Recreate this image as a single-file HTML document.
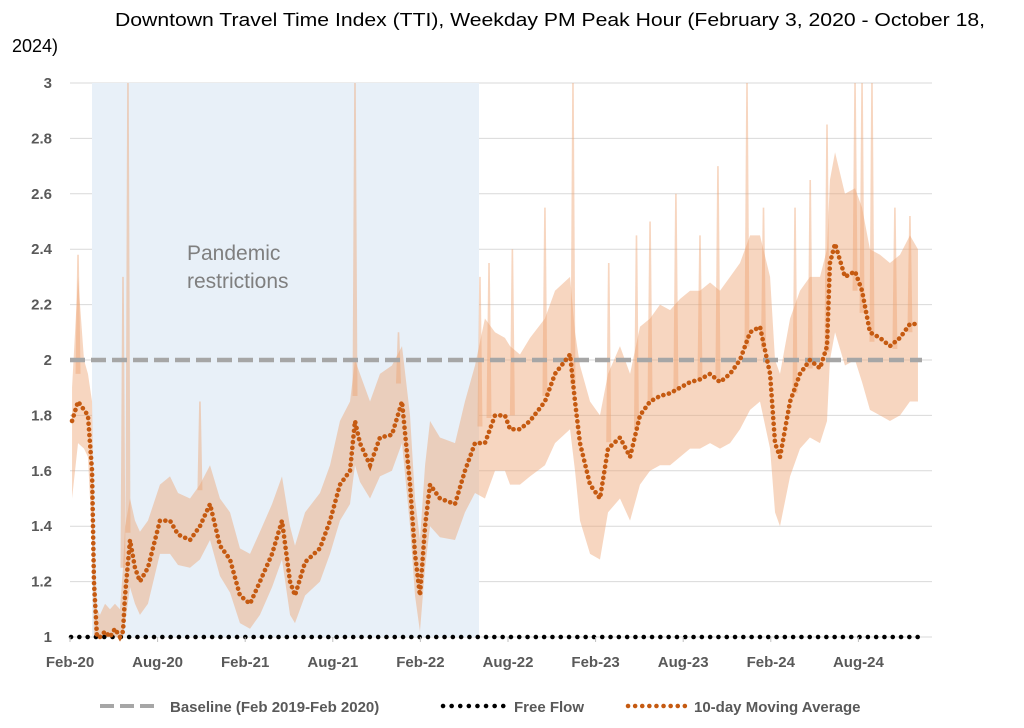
<!DOCTYPE html>
<html><head><meta charset="utf-8"><style>
body{margin:0;background:#fff}
svg{display:block}
text{font-family:"Liberation Sans",sans-serif}
</style></head><body>
<svg id="chart" width="1024" height="728" viewBox="0 0 1024 728">
<text x="115" y="26" font-size="18" fill="#000" textLength="870" lengthAdjust="spacingAndGlyphs">Downtown Travel Time Index (TTI), Weekday PM Peak Hour (February 3, 2020 - October 18,</text>
<text x="12" y="52" font-size="18" fill="#000">2024)</text>
<g id="grid"></g>
<rect x="92" y="83" width="387" height="554" fill="#e8f0f8"/>
<text x="187" y="260" font-size="21" fill="#7f7f7f">Pandemic</text>
<text x="187" y="288" font-size="21" fill="#7f7f7f">restrictions</text>
<g id="band"></g>
<g id="lines"></g>
<g id="axes"></g>
<g>
<line x1="100" y1="706" x2="160" y2="706" stroke="#a6a6a6" stroke-width="4" stroke-dasharray="14,6"/>
<text x="170" y="712" font-size="15" font-weight="bold" fill="#595959">Baseline (Feb 2019-Feb 2020)</text>
<line x1="443" y1="706" x2="505" y2="706" stroke="#000" stroke-width="4.5" stroke-linecap="round" stroke-dasharray="0.1,8.5"/>
<text x="514" y="712" font-size="15" font-weight="bold" fill="#595959">Free Flow</text>
<line x1="628" y1="706" x2="686" y2="706" stroke="#c55a11" stroke-width="4.5" stroke-linecap="round" stroke-dasharray="0.1,7"/>
<text x="694" y="712" font-size="15" font-weight="bold" fill="#595959">10-day Moving Average</text>
</g>
</svg>
<script>
const yTicks=[1,1.2,1.4,1.6,1.8,2,2.2,2.4,2.6,2.8,3];
const yTickLabels=["1","1.2","1.4","1.6","1.8","2","2.2","2.4","2.6","2.8","3"];
const xTicks=[0,6,12,18,24,30,36,42,48,54];
const xTickLabels=["Feb-20","Aug-20","Feb-21","Aug-21","Feb-22","Aug-22","Feb-23","Aug-23","Feb-24","Aug-24"];
const baseline=2.0;
const freeFlow=1.0;
const maT=[0.14,0.55,0.96,1.23,1.51,1.64,1.85,2.05,2.4,2.74,3.08,3.42,3.63,3.77,4.11,4.45,4.79,5.34,6.16,6.85,7.4,8.22,8.9,9.59,10.27,10.96,11.64,12.33,13.01,13.84,14.52,15.07,15.41,16.1,17.12,17.81,18.49,19.18,19.52,19.86,20.55,21.23,22.05,22.74,23.29,23.63,23.97,24.32,24.66,25.34,26.37,27.05,27.74,28.42,29.11,29.79,30.14,30.82,31.51,32.53,33.22,34.25,34.59,34.93,35.62,36.3,36.85,37.67,38.36,39.04,39.73,40.41,41.1,41.78,42.47,43.15,43.84,44.52,45.21,45.89,46.58,47.26,47.95,48.29,48.63,49.32,50,50.68,51.37,51.85,52.05,52.4,53.08,53.77,54.25,54.79,55.48,56.16,56.85,57.53,58.08];
const maV=[1.78,1.85,1.82,1.8,1.6,1.2,1.0,1.0,1.02,1.0,1.03,1.0,1.02,1.15,1.35,1.25,1.2,1.25,1.42,1.42,1.37,1.35,1.4,1.48,1.33,1.28,1.15,1.12,1.2,1.3,1.42,1.2,1.15,1.27,1.32,1.42,1.55,1.6,1.78,1.7,1.62,1.72,1.73,1.85,1.55,1.3,1.15,1.4,1.55,1.5,1.48,1.6,1.7,1.7,1.8,1.8,1.75,1.75,1.78,1.85,1.95,2.02,1.85,1.7,1.55,1.5,1.68,1.72,1.65,1.8,1.85,1.87,1.88,1.9,1.92,1.93,1.95,1.92,1.95,2.0,2.1,2.12,1.95,1.7,1.65,1.85,1.95,2.0,1.97,2.05,2.35,2.42,2.3,2.32,2.25,2.1,2.08,2.05,2.08,2.13,2.13];
const bandHi=[1.9,2.3,2.0,1.95,1.85,1.4,1.1,1.08,1.12,1.1,1.12,1.1,1.25,1.4,1.5,1.42,1.38,1.42,1.55,1.58,1.52,1.5,1.55,1.62,1.5,1.45,1.32,1.3,1.38,1.48,1.58,1.4,1.33,1.45,1.52,1.62,1.78,1.85,2.0,1.95,1.85,1.95,1.98,2.05,1.8,1.5,1.35,1.62,1.78,1.72,1.7,1.85,1.98,2.15,2.1,2.08,2.05,2.02,2.08,2.15,2.25,2.3,2.1,1.98,1.85,1.8,1.95,2.05,1.95,2.12,2.15,2.2,2.18,2.22,2.25,2.25,2.28,2.25,2.3,2.35,2.45,2.45,2.3,2.0,1.95,2.15,2.25,2.3,2.3,2.4,2.65,2.75,2.6,2.62,2.55,2.4,2.38,2.35,2.38,2.45,2.4];
const bandLo=[1.5,1.7,1.68,1.65,1.35,1.0,1.0,1.0,1.0,1.0,1.0,1.0,1.0,1.05,1.18,1.12,1.08,1.12,1.3,1.3,1.26,1.25,1.28,1.35,1.22,1.16,1.05,1.03,1.08,1.18,1.28,1.08,1.05,1.15,1.2,1.3,1.42,1.48,1.62,1.56,1.5,1.58,1.6,1.7,1.4,1.15,1.02,1.25,1.4,1.36,1.35,1.45,1.52,1.5,1.6,1.6,1.55,1.55,1.58,1.62,1.7,1.75,1.6,1.42,1.3,1.28,1.45,1.5,1.42,1.55,1.6,1.62,1.62,1.65,1.68,1.68,1.7,1.68,1.7,1.75,1.82,1.85,1.68,1.45,1.4,1.58,1.68,1.72,1.7,1.78,2.0,2.1,1.98,2.0,1.92,1.82,1.8,1.78,1.8,1.85,1.85];
const spikeT=[0.55,3.63,3.97,8.9,19.52,22.5,28.08,28.7,30.3,32.53,34.45,36.9,38.8,39.73,41.5,43.15,44.38,46.37,47.5,49.66,50.7,51.85,53.77,54.25,54.93,56.5,57.53];
const spikeV=[2.38,2.3,3.0,1.85,3.0,2.1,2.3,2.35,2.4,2.55,3.0,2.35,2.45,2.5,2.6,2.45,2.7,3.0,2.55,2.55,2.65,2.85,3.0,3.0,3.0,2.55,2.52];

const NS="http://www.w3.org/2000/svg";
const X0=70,PX_PER_MONTH=14.6,Y1=637,Y3=83;
const x=t=>X0+t*PX_PER_MONTH;
const y=v=>Y1-(v-1)*(Y1-Y3)/2;
function mk(tag,attrs,parent){const e=document.createElementNS(NS,tag);for(const k in attrs)e.setAttribute(k,attrs[k]);parent.appendChild(e);return e;}
const grid=document.getElementById('grid'),axes=document.getElementById('axes'),band=document.getElementById('band'),lines=document.getElementById('lines');
yTicks.forEach((v,i)=>{
  const g=mk('line',{x1:X0,x2:932,y1:y(v),y2:y(v),stroke:'#d9d9d9','stroke-width':1},grid);
  
  
  const t=mk('text',{x:52,y:y(v)+5,'text-anchor':'end','font-size':15,'font-weight':'bold',fill:'#595959'},axes);
  t.textContent=yTickLabels[i];
  
  
});
xTicks.forEach((m,i)=>{
  const tk=mk('line',{x1:x(m),x2:x(m),y1:Y1,y2:Y1+5,stroke:'#bfbfbf'},axes);
  
  
  const t=mk('text',{x:x(m),y:667,'text-anchor':'middle','font-size':15,'font-weight':'bold',fill:'#595959'},axes);
  t.textContent=xTickLabels[i];
  
  
});
let d='M'+maT.map((t,i)=>x(t)+','+y(bandHi[i])).join('L');
for(let i=maT.length-1;i>=0;i--)d+='L'+x(maT[i])+','+y(bandLo[i]);
const bp=mk('path',{d:d+'Z',fill:'rgba(238,165,115,0.45)'},band);


function loAt(t){for(let i=1;i<maT.length;i++)if(maT[i]>=t){const f=(t-maT[i-1])/(maT[i]-maT[i-1]);return bandLo[i-1]+f*(bandLo[i]-bandLo[i-1]);}return bandLo[bandLo.length-1];}
spikeT.forEach((t,i)=>{
  const base=loAt(t)+0.25;
  const s=mk('polygon',{points:`${x(t)-2.5},${y(base)} ${x(t)-0.8},${y(spikeV[i])} ${x(t)+0.8},${y(spikeV[i])} ${x(t)+2.5},${y(base)}`,fill:'rgba(238,165,115,0.45)'},band);
  
  
});
const bl=mk('line',{x1:X0,x2:922,y1:y(baseline),y2:y(baseline),stroke:'#a6a6a6','stroke-width':4.5,'stroke-dasharray':'15,6'},lines);


const ff=mk('line',{x1:X0+1,x2:922,y1:y(freeFlow),y2:y(freeFlow),stroke:'#000','stroke-width':4.5,'stroke-linecap':'round','stroke-dasharray':'0.1,8.2'},lines);


const ma=mk('path',{d:'M'+maT.map((t,i)=>x(t)+','+y(maV[i])).join('L'),fill:'none',stroke:'#c55a11','stroke-width':4.6,'stroke-linecap':'round','stroke-dasharray':'0.1,5.6'},lines);


</script>
</body></html>
